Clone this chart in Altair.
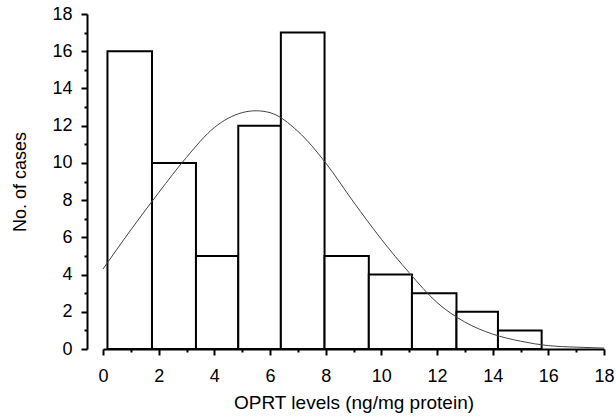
import altair as alt
import pandas as pd

# Histogram bins (left/right edges, ng/mg protein) and counts
bin_left = [0.16, 1.76, 3.34, 4.86, 6.39, 7.96, 9.55, 11.1, 12.7, 14.19]
bin_right = [1.76, 3.34, 4.86, 6.39, 7.96, 9.55, 11.1, 12.7, 14.19, 15.76]
counts = [16, 10, 5, 12, 17, 5, 4, 3, 2, 1]

# Fitted curve
curve_x = [0, 1, 2, 3, 4, 5, 5.5, 6, 7, 8, 9, 10, 11, 12, 13, 14, 15, 16, 17, 18]
curve_y = [4.3, 6.4, 8.4, 10.3, 11.9, 12.7, 12.8, 12.7, 11.7, 10.0, 7.9, 5.9, 4.1,
           2.5, 1.45, 0.8, 0.42, 0.18, 0.1, 0.05]

major_ticks = [0, 2, 4, 6, 8, 10, 12, 14, 16, 18]
minor_ticks = [1, 3, 5, 7, 9, 11, 13, 15, 17]

bars = pd.DataFrame({"left": bin_left, "right": bin_right, "count": counts})
curve = pd.DataFrame({"x": curve_x, "y": curve_y})

FONT = "Liberation Sans"
FS = 18
TFS = 19

x_scale = alt.Scale(domain=[0, 18], nice=False, zero=False)
y_scale = alt.Scale(domain=[0, 18], nice=False)

x_axis = alt.Axis(
    title="OPRT levels (ng/mg protein)", orient="bottom",
    values=major_ticks, labelOverlap=False,
    tickSize=6, tickColor="black", tickWidth=2, domainColor="black", domainWidth=2,
    labelFont=FONT, labelFontSize=FS, labelColor="black", labelPadding=12,
    titleFont=FONT, titleFontSize=TFS, titleFontWeight="normal", titleColor="black",
    titlePadding=8, grid=False, labelFlush=False,
)
y_axis = alt.Axis(
    title="No. of cases", orient="left",
    values=major_ticks, labelOverlap=False,
    tickSize=6, tickColor="black", tickWidth=2, domainColor="black", domainWidth=2,
    labelFont=FONT, labelFontSize=FS, labelColor="black", labelPadding=9,
    titleFont=FONT, titleFontSize=FS, titleFontWeight="normal", titleColor="black",
    titlePadding=22, grid=False, offset=16, labelFlush=False,
)
x_minor = alt.Axis(
    title="", orient="bottom", values=minor_ticks, labels=False, domain=False,
    tickSize=3, tickColor="black", tickWidth=2, grid=False,
)
y_minor = alt.Axis(
    title="", orient="left", values=minor_ticks, labels=False, domain=False,
    tickSize=3, tickColor="black", tickWidth=2, grid=False, offset=16,
)

bar_layer = alt.Chart(bars).mark_rect(
    fill="white", stroke="black", strokeWidth=2
).encode(
    x=alt.X("left:Q", scale=x_scale, axis=x_axis),
    x2="right:Q",
    y=alt.Y("count:Q", scale=y_scale, axis=y_axis),
    y2=alt.datum(0),
)

curve_layer = alt.Chart(curve).mark_line(
    color="#444444", strokeWidth=1, interpolate="monotone"
).encode(
    x=alt.X("x:Q", scale=x_scale, axis=x_minor),
    y=alt.Y("y:Q", scale=y_scale, axis=y_minor),
)

chart = alt.layer(bar_layer, curve_layer).resolve_axis(
    x="independent", y="independent"
).properties(
    width=501, height=335,
    background="white",
    autosize=alt.AutoSizeParams(type="none"),
    padding={"left": 103, "top": 14, "right": 12, "bottom": 70},
).configure_view(stroke=None)

chart.save("out.html", embed_options={"renderer": "svg", "actions": False})
